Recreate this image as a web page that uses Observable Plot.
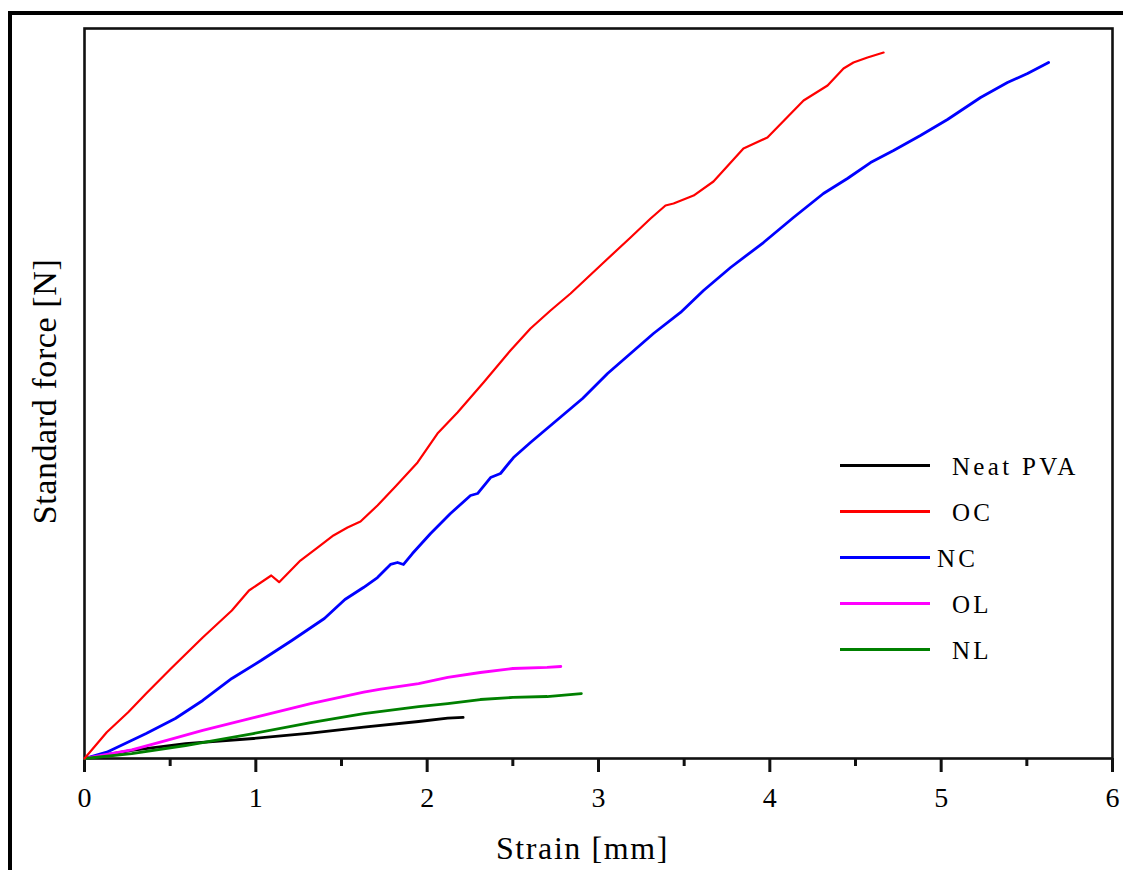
<!DOCTYPE html>
<html>
<head>
<meta charset="utf-8">
<script src="https://cdn.jsdelivr.net/npm/d3@7"></script>
<script src="https://cdn.jsdelivr.net/npm/@observablehq/plot@0.6"></script>
<style>
  body { margin: 0; background: #fff; }
  #wrap { position: relative; width: 1123px; height: 870px; overflow: hidden; background: #fff; }
  #wrap svg { position: absolute; left: 0; top: 0; }
  #outer { position: absolute; left: 8px; top: 11px; width: 1300px; height: 1000px; border: 4px solid #000; box-sizing: border-box; }
  .leg-line { position: absolute; height: 3px; width: 90px; }
  .leg-label { position: absolute; font-family: "Liberation Serif", serif; font-size: 25px; letter-spacing: 3.3px; color: #000; line-height: 1; }
</style>
</head>
<body>
<div id="wrap"><div id="outer"></div></div>
<script>
// ---- Data ----
const seriesNames  = ["Neat PVA", "OC", "NC", "OL", "NL"];
const seriesColors = ["#000000", "#ff0000", "#0000ff", "#ff00ff", "#008000"];

const neatX = [0, 0.276, 0.59, 0.985, 1.32, 1.63, 1.95, 2.12, 2.21];
const neatY = [0, 1.1, 2.05, 2.74, 3.47, 4.29, 5.07, 5.52, 5.62];

const ocX = [0, 0.13, 0.255, 0.36, 0.505, 0.69, 0.86, 0.96, 1.09, 1.136,
             1.26, 1.36, 1.453, 1.535, 1.611, 1.71, 1.815, 1.944, 2.06, 2.177,
             2.329, 2.486, 2.603, 2.72, 2.837, 3.03, 3.187, 3.304, 3.391, 3.438,
             3.555, 3.671, 3.846, 3.986, 4.197, 4.337, 4.43, 4.488, 4.57, 4.664];
const ocY = [0, 3.6, 6.34, 8.9, 12.33, 16.58, 20.27, 23.01, 25.07, 24.15,
             27.12, 28.9, 30.55, 31.64, 32.47, 34.66, 37.26, 40.55, 44.52, 47.4,
             51.5, 55.89, 58.9, 61.37, 63.7, 67.95, 71.37, 73.97, 75.75, 76.03,
             77.12, 79.04, 83.56, 85.07, 90.14, 92.19, 94.52, 95.34, 96.03, 96.71];

const ncX = [0, 0.13, 0.36, 0.53, 0.69, 0.86, 1.03, 1.21, 1.40,
             1.52, 1.628, 1.71, 1.786, 1.827, 1.862, 1.914,
             2.02, 2.136, 2.253, 2.294, 2.37, 2.428, 2.504, 2.603,
             2.907, 3.053, 3.187, 3.321, 3.479, 3.613, 3.771, 3.963,
             4.138, 4.313, 4.453, 4.588, 4.722, 4.879, 5.037, 5.23,
             5.387, 5.504, 5.627];
const ncY = [0, 0.86, 3.42, 5.48, 7.95, 10.96, 13.42, 16.16, 19.18,
             21.78, 23.42, 24.79, 26.58, 26.85, 26.58, 28.08,
             30.82, 33.56, 36.03, 36.3, 38.49, 39.04, 41.23, 43.29,
             49.32, 52.74, 55.48, 58.22, 61.1, 64.11, 67.26, 70.68,
             74.11, 77.4, 79.45, 81.64, 83.29, 85.34, 87.53, 90.55,
             92.6, 93.84, 95.34];

const olX = [0, 0.276, 0.48, 0.69, 1.0, 1.32, 1.63, 1.73, 1.95, 2.12, 2.31, 2.5, 2.7, 2.78];
const olY = [0, 1.19, 2.47, 3.84, 5.66, 7.53, 9.08, 9.5, 10.27, 11.1, 11.78, 12.33, 12.47, 12.6];

const nlX = [0, 0.276, 0.59, 0.985, 1.32, 1.63, 1.95, 2.12, 2.31, 2.5, 2.7, 2.9];
const nlY = [0, 0.68, 1.78, 3.42, 4.93, 6.16, 7.12, 7.53, 8.08, 8.36, 8.49, 8.9];

const majorTicks = [0, 1, 2, 3, 4, 5, 6];
const minorTicks = [0.5, 1.5, 2.5, 3.5, 4.5, 5.5];
const xTitle = "Strain [mm]";
const yTitle = "Standard force [N]";

// ---- Build table ----
const seriesXY = [[neatX, neatY], [ocX, ocY], [ncX, ncY], [olX, olY], [nlX, nlY]];
const rows = [];
seriesNames.forEach((name, i) => {
  const [xs, ys] = seriesXY[i];
  xs.forEach((x, j) => rows.push({series: name, x, y: ys[j]}));
});

const font = "Liberation Serif, Times New Roman, serif";

const chart = Plot.plot({
  width: 1123,
  height: 870,
  marginLeft: 84,
  marginRight: 11,
  marginTop: 28,
  marginBottom: 112,
  x: {domain: [0, 6]},
  y: {domain: [0, 100], axis: null},
  color: {domain: seriesNames, range: seriesColors},
  style: {fontFamily: font, background: "transparent", color: "#000", overflow: "visible"},
  marks: [
    Plot.frame({stroke: "#111", strokeWidth: 2.6}),
    Plot.axisX({ticks: majorTicks, tickSize: 14, tickPadding: 15, fontSize: 28, strokeWidth: 3,
                label: null, tickFormat: d => String(d), stroke: "#111"}),
    Plot.axisX({ticks: minorTicks, tickSize: 8, strokeWidth: 3, text: null, label: null, stroke: "#111"}),
    Plot.line(rows.filter(d => d.series !== "OC"), {x: "x", y: "y", z: "series", stroke: "series", strokeWidth: 2.8, curve: "linear"}),
    Plot.line(rows.filter(d => d.series === "OC"), {x: "x", y: "y", z: "series", stroke: "series", strokeWidth: 2.2, curve: "linear"}),
    Plot.text([xTitle], {frameAnchor: "bottom", dy: 90, dx: -16, fontSize: 32, fill: "#000", lineAnchor: "middle", textAnchor: "middle"}),
    Plot.text([yTitle], {frameAnchor: "left", dx: -39, dy: -2, rotate: -90, fontSize: 34, fill: "#000", lineAnchor: "middle", textAnchor: "middle"})
  ]
});

const wrap = document.getElementById("wrap");
wrap.insertBefore(chart, wrap.firstChild);

// letter spacing to mimic the slightly wide type of the original
d3.select(chart).selectAll("text").filter(function() { return this.textContent === xTitle; })
  .style("letter-spacing", "1.6px");
d3.select(chart).selectAll("text").filter(function() { return this.textContent === yTitle; })
  .style("letter-spacing", "0.6px");

// ---- Legend (inside the plot) ----
const legendLeft = 840, legendTop = 465, legendStep = 46;
const labelLeft = [952, 952, 937, 952, 952];
seriesNames.forEach((name, i) => {
  const y = legendTop + i * legendStep;
  const line = document.createElement("div");
  line.className = "leg-line";
  line.style.left = legendLeft + "px";
  line.style.top = (y - 1.5) + "px";
  line.style.background = seriesColors[i];
  wrap.appendChild(line);
  const lab = document.createElement("div");
  lab.className = "leg-label";
  lab.textContent = name;
  lab.style.left = labelLeft[i] + "px";
  lab.style.top = (y - 11) + "px";
  wrap.appendChild(lab);
});
</script>
</body>
</html>
